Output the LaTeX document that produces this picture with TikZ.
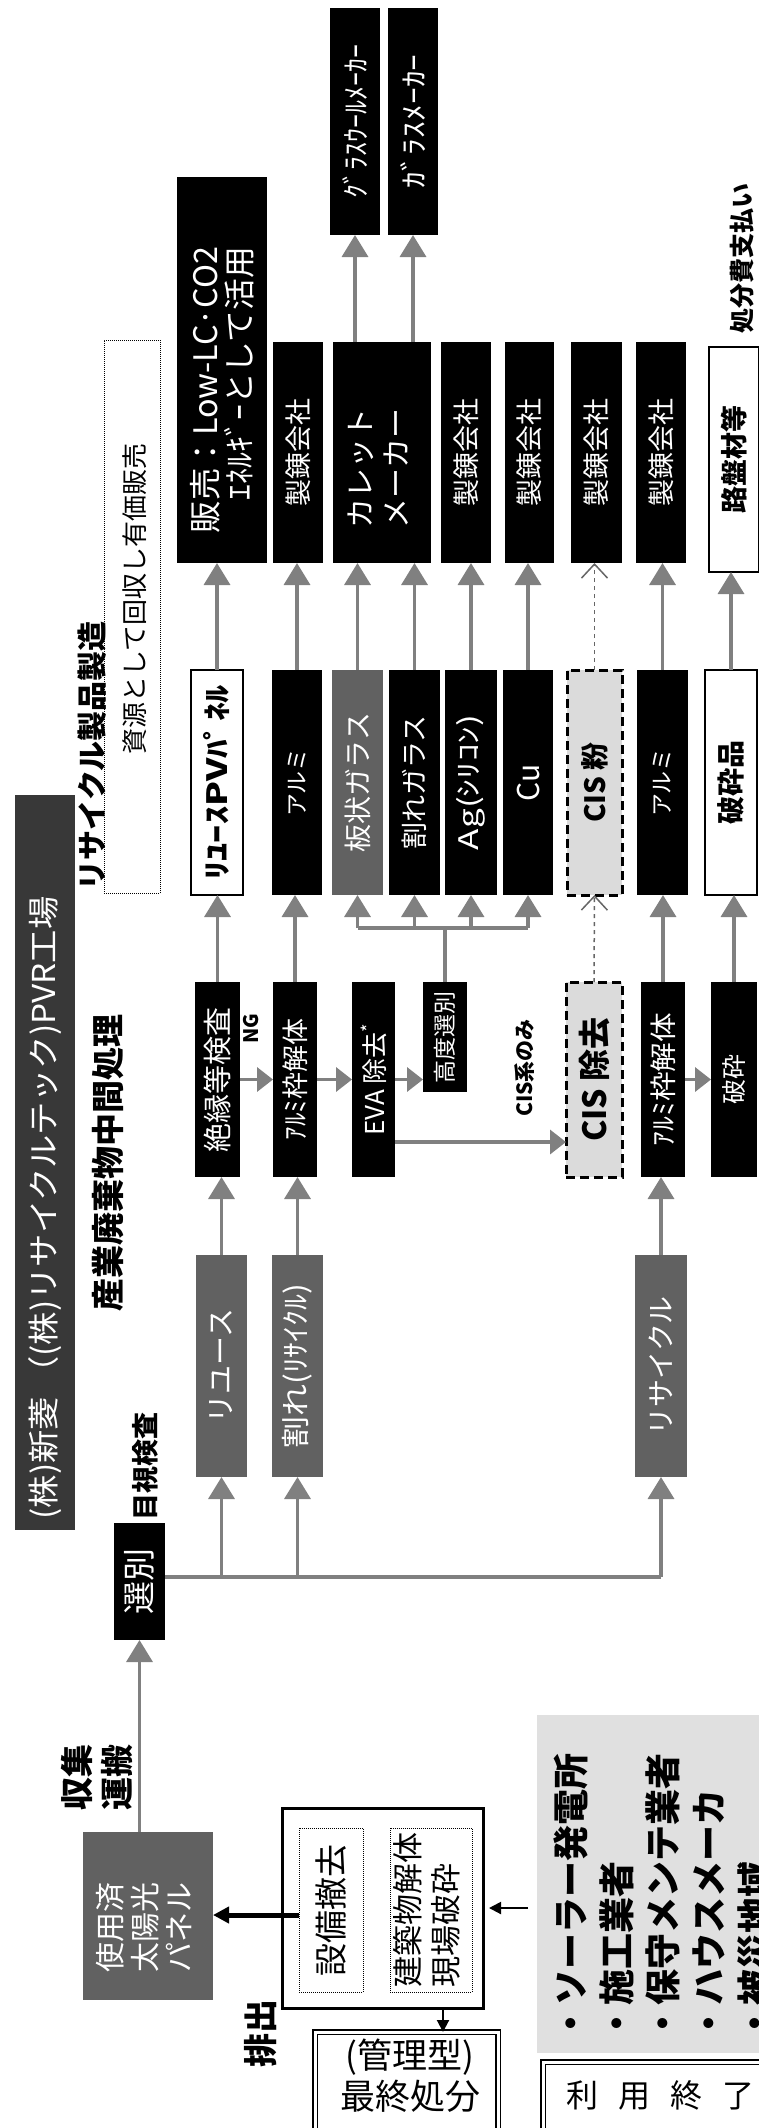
\documentclass[tikz,border=0pt]{standalone}
\usepackage{fontspec}
\setmainfont{Noto Sans CJK JP}
\usepackage{graphicx}
\usetikzlibrary{arrows.meta,calc}
\newcommand{\rs}[2]{\rotatebox{90}{\scalebox{#1}[1]{#2}}}
\newcommand{\fs}[2]{\fontsize{#1}{#2}\selectfont}
\begin{document}
\begin{tikzpicture}[x=1pt,y=-1pt,
  box/.style={inner sep=0pt, outer sep=0pt},
  blk/.style={box, fill=black, text=white},
  gry/.style={box, fill=black!62, text=white},
  wht/.style={box, fill=white, draw=black, line width=2pt, text=black},
  cisbox/.style={box, fill=black!14, draw=black, line width=3pt, dash pattern=on 9pt off 5pt, text=black},
  dotbox/.style={box, draw=black, line width=1pt, densely dotted},
  dbl/.style={box, draw=black, line width=1.6pt, double=white, double distance=3pt},
  lbl/.style={inner sep=0pt},
  gline/.style={draw=black!50, line width=3.5pt},
  garrow/.style={gline, -{Triangle[width=26pt,length=22pt]}},
  garrowb/.style={gline, -{Triangle[width=24pt,length=16pt]}},
  darrow/.style={draw=black!60, line width=1.5pt, dash pattern=on 4pt off 4pt, -{Straight Barb[width=26pt,length=14pt,line width=1.5pt]}},
  barrow/.style={draw=black, line width=5pt, -{Triangle[width=16pt,length=16pt]}},
  tarrow/.style={draw=black, line width=2pt, -{Triangle[width=12pt,length=12pt]}}
]
\useasboundingbox (0,0) rectangle (759,2128);

% ---------- title and headings ----------
\node[box, fill=black!78, minimum width=60, minimum height=735] (titlebar) at (45,1162.5) {};
\node[lbl, text=white] (title) at (45,1208) {\rotatebox{90}{\resizebox{623pt}{27pt}{\fs{32}{32}(株)新菱 （(株)リサイクルテック)PVR工場}}};
\node[lbl] (sangyo) at (108,1163) {\rs{1}{\bfseries\fs{33}{33}産業廃棄物中間処理}};
\node[lbl] (recprod) at (92,756) {\rs{1}{\bfseries\fs{30}{30}リサイクル製品製造}};
\node[dotbox, minimum width=56, minimum height=553] (shigenbox) at (132,616.5) {};
\node[lbl] (shigen) at (135,599) {\rs{1}{\fs{26}{26}資源として回収し有価販売}};
\node[lbl] (mokushi) at (145,1466) {\rs{1}{\bfseries\fs{27}{27}目視検査}};
\node[lbl] (shobun) at (742,258) {\rs{1}{\bfseries\fs{25}{25}処分費支払い}};

% ---------- destinations ----------
\node[blk, minimum width=90, minimum height=386] (low) at (222,370) {\rotatebox{90}{\vbox{\baselineskip=34pt\lineskiplimit=-100pt\lineskip=0pt
  \hbox to 326pt{\hfill\resizebox{286pt}{!}{\fs{30}{30}販売：Low-LC·CO2}\hspace*{40pt}}
  \hbox to 326pt{\hfill\resizebox{253pt}{!}{\fs{27}{27}ｴﾈﾙｷﾞｰとして活用}\hspace*{40pt}}}}};
\node[blk, minimum width=50, minimum height=221] (sr1) at (298,452.5) {\rs{1}{\fs{27}{30}製錬会社}};
\node[blk, minimum width=98, minimum height=221] (cullet) at (382,452.5) {\rotatebox{90}{\hbox{\fs{30}{36}\begin{tabular}{@{}l@{}}カレット\\メーカー\end{tabular}\hspace*{32pt}}}};
\node[blk, minimum width=50, minimum height=221] (sr2) at (466,452.5) {\rs{1}{\fs{27}{30}製錬会社}};
\node[blk, minimum width=49, minimum height=221] (sr3) at (529.5,452.5) {\rs{1}{\fs{27}{30}製錬会社}};
\node[blk, minimum width=51, minimum height=221] (sr4) at (596.5,452.5) {\rs{1}{\fs{27}{30}製錬会社}};
\node[blk, minimum width=50, minimum height=221] (sr5) at (661,452.5) {\rs{1}{\fs{27}{30}製錬会社}};
\node[wht, minimum width=50, minimum height=225] (roban) at (734,459.5) {\rs{1}{\bfseries\fs{27}{30}路盤材等}};
\node[blk, minimum width=50, minimum height=227] (gw) at (355,121.5) {\rs{1}{\fs{28}{30}ｸﾞﾗｽｳｰﾙﾒｰｶｰ}};
\node[blk, minimum width=50, minimum height=227] (gm) at (413,121.5) {\rs{1.2}{\fs{28}{30}ｶﾞﾗｽﾒｰｶｰ}};

% ---------- recovered products ----------
\node[wht, minimum width=52, minimum height=225] (reuse) at (217,782.5) {\rs{1.3}{\bfseries\fs{28}{30}ﾘﾕｰｽPVﾊﾟﾈﾙ}};
\node[blk, minimum width=50, minimum height=225] (alu1) at (297,782.5) {\rs{1}{\fs{23}{26}アルミ}};
\node[gry, minimum width=51, minimum height=225] (glass1) at (357.5,782.5) {\rs{1}{\fs{28}{30}板状ガラス}};
\node[blk, minimum width=51, minimum height=225] (glass2) at (414.5,782.5) {\rs{1}{\fs{27}{30}割れガラス}};
\node[blk, minimum width=52, minimum height=225] (ag) at (471,782.5) {\rs{1.3}{\fs{27}{30}Ag(ｼﾘｺﾝ)}};
\node[blk, minimum width=50, minimum height=225] (cu) at (528,782.5) {\rs{1}{\fs{30}{30}Cu}};
\node[cisbox, minimum width=55, minimum height=225] (cispow) at (594.5,782.5) {\rs{1}{\bfseries\fs{28}{30}CIS 粉}};
\node[blk, minimum width=51, minimum height=225] (alu2) at (662.5,782.5) {\rs{1}{\fs{23}{26}アルミ}};
\node[wht, minimum width=52, minimum height=225] (hhin) at (731,782.5) {\rs{1}{\bfseries\fs{28}{30}破砕品}};

% ---------- processing ----------
\node[blk, minimum width=45, minimum height=195] (insp) at (217.5,1079.5) {\rs{1}{\fs{29}{30}絶縁等検査}};
\node[blk, minimum width=44, minimum height=195] (alud1) at (295,1079.5) {\rs{1}{\fs{27}{30}ｱﾙﾐ枠解体}};
\node[blk, minimum width=43, minimum height=195] (eva) at (373.5,1079.5) {\rs{1}{\fs{26}{30}EVA 除去\textsuperscript{*}}};
\node[blk, minimum width=44, minimum height=110] (kodo) at (445,1037) {\rs{1}{\fs{23}{26}高度選別}};
\node[cisbox, minimum width=56, minimum height=195] (cisrm) at (594,1079.5) {\rs{1}{\bfseries\fs{32}{34}CIS 除去}};
\node[blk, minimum width=44, minimum height=195] (alud2) at (663,1079.5) {\rs{1.1}{\fs{27}{30}ｱﾙﾐ枠解体}};
\node[blk, minimum width=46, minimum height=195] (hasai) at (734,1079.5) {\rs{1}{\fs{25}{28}破砕}};
\node[lbl] (ng) at (251,1029) {\rs{1}{\bfseries\fs{20}{20}NG}};
\node[lbl] (cisonly) at (525,1068) {\rs{1}{\bfseries\fs{21}{22}CIS系のみ}};

% ---------- sorting ----------
\node[gry, minimum width=51, minimum height=222] (g1) at (221.5,1366) {\rs{1}{\fs{29}{30}リユース}};
\node[gry, minimum width=51, minimum height=222] (g2) at (297.5,1366) {\rs{1.1}{\fs{29}{30}割れ(ﾘｻｲｸﾙ)}};
\node[gry, minimum width=52, minimum height=222] (g3) at (661,1366) {\rs{1}{\fs{28}{30}リサイクル}};
\node[blk, minimum width=51, minimum height=117] (senbetsu) at (139.5,1581.5) {\rs{1}{\fs{33}{34}選別}};

% ---------- discharge side ----------
\node[gry, minimum width=130, minimum height=168] (panel) at (148,1916) {\rotatebox{90}{\hbox{\fs{30}{33}\begin{tabular}{@{}c@{}}使用済\\太陽光\\パネル\end{tabular}\hspace*{22pt}}}};
\node[lbl] (shushu) at (101,1777) {\rotatebox{90}{\bfseries\fs{33}{38}\begin{tabular}{@{}l@{}}収集\\運搬\end{tabular}}};
\node[box, draw=black, line width=3pt, minimum width=201, minimum height=200] (outer) at (382.5,1908) {};
\node[dotbox, minimum width=64, minimum height=164] (in1) at (331,1910) {\rs{1}{\fs{33}{34}設備撤去}};
\node[dotbox, minimum width=82, minimum height=164] (in2) at (431,1910) {\rotatebox{90}{\fs{31}{37}\begin{tabular}{@{}l@{}}建築物解体\\現場破砕\end{tabular}}};
\node[lbl] (haishutsu) at (261,2033) {\rs{1}{\bfseries\fs{34}{34}排出}};
\node[dbl, minimum width=183, minimum height=118] (saishu) at (406.5,2091) {};
\node[lbl] (saishutext) at (410,2080) {\fs{35}{38}\begin{tabular}{@{}c@{}}(管理型)\\最終処分\end{tabular}};
\node[box, fill=black!12, minimum width=259, minimum height=338] (listbg) at (666.5,1884) {};
\node[lbl, anchor=south] (list) at (667,2042) {\rotatebox{90}{\bfseries\fs{36}{46}\begin{tabular}{@{}l@{}}・ソーラー発電所\\・施工業者\\・保守メンテ業者\\・ハウスメーカ\\・被災地域\end{tabular}}};
\node[dbl, minimum width=257, minimum height=98] (riyo) at (671.5,2111) {};
\node[lbl] (riyotext) at (660,2095) {\fs{32}{32}利\hspace{20pt}用\hspace{20pt}終\hspace{20pt}了};

% ---------- connectors ----------
\draw[garrow] (reuse.north) -- (reuse.north |- low.south);
\draw[garrow] (alu1.north) -- (alu1.north |- sr1.south);
\draw[garrow] (glass1.north) -- (glass1.north |- cullet.south);
\draw[garrow] (glass2.north) -- (glass2.north |- cullet.south);
\draw[garrow] (ag.north) -- (ag.north |- sr2.south);
\draw[garrow] (cu.north) -- (cu.north |- sr3.south);
\draw[darrow] (cispow.north) -- (cispow.north |- sr4.south);
\draw[garrow] (alu2.north) -- (alu2.north |- sr5.south);
\draw[garrow] (hhin.north) -- (hhin.north |- roban.south);
\draw[garrow] (cullet.north -| gw) -- (gw.south);
\draw[garrow] (cullet.north -| gm) -- (gm.south);

\draw[garrow] (insp.north) -- (insp.north |- reuse.south);
\draw[garrow] (alud1.north) -- (alud1.north |- alu1.south);
\coordinate (kb) at (kodo.north |- 0,928);
\draw[gline] (kodo.north) -- (kb);
\draw[gline] (glass1.south |- kb) -- (cu.south |- kb);
\foreach \n in {glass1,glass2,ag,cu} \draw[garrow] (\n.south |- kb) -- (\n.south);
\draw[darrow] (cisrm.north) -- (cispow.south);
\draw[garrow] (alud2.north) -- (alud2.north |- alu2.south);
\draw[garrow] (hasai.north) -- (hasai.north |- hhin.south);

\draw[garrowb] (insp.east) -- (alud1.west);
\draw[garrowb] (alud1.east) -- (eva.west);
\draw[garrowb] (eva.east) -- (eva.east -| kodo.west);
\draw[garrowb] (alud2.east) -- (hasai.west);
\draw[garrowb] (eva.east |- 0,1142) -- (cisrm.west |- 0,1142);

\draw[garrow] (g1.north) -- (g1.north |- insp.south);
\draw[garrow] (g2.north) -- (g2.north |- alud1.south);
\draw[garrow] (g3.north) -- (g3.north |- alud2.south);

\coordinate (bus) at (senbetsu.east |- 0,1577);
\draw[gline] (bus) -- (g3.south |- bus);
\foreach \n in {g1,g2,g3} \draw[garrow] (\n.south |- bus) -- (\n.south);
\draw[garrow] (panel.north -| senbetsu) -- (senbetsu.south);

\draw[barrow] (in1.west |- 0,1915) -- (panel.east |- 0,1915);
\coordinate (dn) at ($(outer.south)+(60.5,0)$);
\draw[tarrow] (dn) -- (dn |- saishu.north);
\draw[tarrow] ($(listbg.west |- outer.east)+(-9,0)$) -- ($(outer.east)+(6,0)$);
\end{tikzpicture}
\end{document}
